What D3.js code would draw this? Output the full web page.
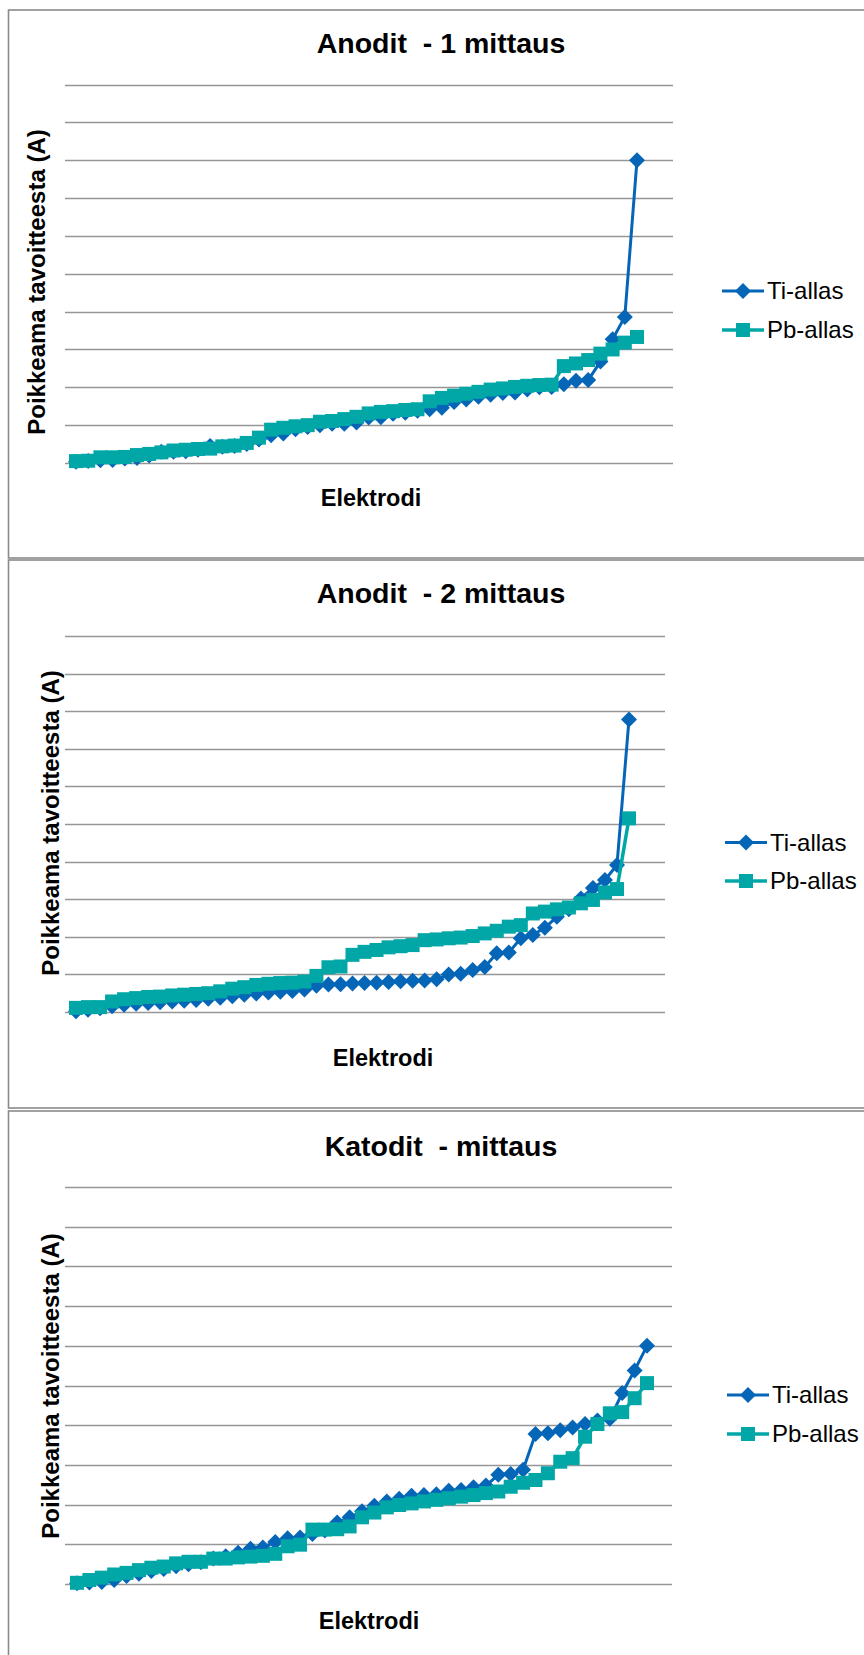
<!DOCTYPE html>
<html>
<head>
<meta charset="utf-8">
<script src="https://cdn.jsdelivr.net/npm/d3@7"></script>
<style>
    body { margin: 0; background: #fff; }
    text { font-family: "Liberation Sans", Arial, sans-serif; fill: #000; }
</style>
</head>
<body>
<script>
// Otsikot ja sarjojen nimet
const otsikot = ['Anodit  - 1 mittaus', 'Anodit  - 2 mittaus', 'Katodit  - mittaus'];
const sarjat = ['Ti-allas', 'Pb-allas'];
const akseliY = 'Poikkeama tavoitteesta (A)';
const akseliX = 'Elektrodi';

// Anodit - 1 mittaus (ruudukon yksiköissä)
const ti1 = [0.03, 0.05, 0.07, 0.08, 0.12, 0.13, 0.20, 0.30, 0.30, 0.31,
             0.35, 0.45, 0.43, 0.45, 0.50, 0.62, 0.73, 0.78, 0.89, 0.95,
             1.00, 1.04, 1.04, 1.07, 1.20, 1.21, 1.30, 1.33, 1.38, 1.42,
             1.46, 1.61, 1.68, 1.75, 1.80, 1.85, 1.86, 1.94, 2.00, 2.01,
             2.08, 2.17, 2.19, 2.68, 3.27, 3.86, 8.00];
const pb1 = [0.05, 0.06, 0.15, 0.15, 0.16, 0.21, 0.24, 0.28, 0.33, 0.35,
             0.37, 0.38, 0.44, 0.46, 0.53, 0.67, 0.88, 0.93, 0.97, 1.00,
             1.09, 1.11, 1.16, 1.22, 1.31, 1.35, 1.37, 1.40, 1.42, 1.63,
             1.72, 1.78, 1.83, 1.88, 1.94, 1.97, 2.01, 2.04, 2.06, 2.07,
             2.56, 2.63, 2.72, 2.89, 3.00, 3.18, 3.33];

// Anodit - 2 mittaus
const ti2 = [0.02, 0.06, 0.10, 0.15, 0.19, 0.22, 0.24, 0.26, 0.28, 0.30,
             0.32, 0.35, 0.38, 0.42, 0.46, 0.49, 0.52, 0.54, 0.56, 0.60,
             0.70, 0.73, 0.74, 0.76, 0.77, 0.78, 0.80, 0.82, 0.83, 0.84,
             0.87, 1.00, 1.02, 1.12, 1.20, 1.56, 1.58, 1.96, 2.05, 2.24,
             2.53, 2.73, 3.02, 3.30, 3.51, 3.91, 7.78];
const pb2 = [0.11, 0.13, 0.13, 0.28, 0.34, 0.37, 0.40, 0.41, 0.44, 0.46,
             0.48, 0.50, 0.55, 0.62, 0.66, 0.72, 0.75, 0.77, 0.78, 0.81,
             0.96, 1.19, 1.21, 1.52, 1.60, 1.65, 1.72, 1.75, 1.78, 1.91,
             1.93, 1.96, 1.98, 2.02, 2.09, 2.16, 2.27, 2.31, 2.62, 2.67,
             2.73, 2.78, 2.89, 2.98, 3.18, 3.27, 5.15];

// Katodit - mittaus
const ti3 = [0.02, 0.04, 0.05, 0.10, 0.20, 0.26, 0.33, 0.38, 0.45, 0.50,
             0.55, 0.64, 0.70, 0.79, 0.89, 0.92, 1.06, 1.15, 1.17, 1.26,
             1.35, 1.55, 1.68, 1.83, 1.97, 2.08, 2.15, 2.22, 2.24, 2.26,
             2.35, 2.37, 2.44, 2.48, 2.75, 2.77, 2.88, 3.78, 3.80, 3.87,
             3.94, 4.03, 4.12, 4.16, 4.81, 5.38, 6.00];
const pb3 = [0.03, 0.10, 0.16, 0.24, 0.28, 0.35, 0.41, 0.44, 0.52, 0.56,
             0.56, 0.64, 0.64, 0.67, 0.69, 0.71, 0.76, 0.95, 0.99, 1.37,
             1.37, 1.38, 1.45, 1.68, 1.80, 1.93, 1.99, 2.03, 2.08, 2.12,
             2.16, 2.20, 2.24, 2.29, 2.33, 2.45, 2.55, 2.62, 2.79, 3.08,
             3.17, 3.71, 4.03, 4.30, 4.33, 4.68, 5.06];

// Y-akselin ruudukko (ei näkyviä arvoja)
const yAlue = [0, 10];

// Asettelu: paneelien sijainnit sivulla
const config = {
    width: 864,
    height: 1655,
    tiColor: '#0565b7',
    pbColor: '#00a7a6',
    gridColor: '#969696',
    borderColor: '#8a8a8a',
    panels: [
        { box: [10, 558], plot: [65, 673, 84.5, 463], dataX: [76, 637], titleY: 53,
          yTitle: [45, 282], xTitle: [371, 506], legend: [722, 291, 330] },
        { box: [560, 1108], plot: [65, 665, 636, 1012], dataX: [76, 629], titleY: 603,
          yTitle: [59, 823], xTitle: [383, 1066], legend: [725, 842.5, 881] },
        { box: [1111, 1720], plot: [65, 672, 1187, 1584], dataX: [77, 647], titleY: 1156,
          yTitle: [59, 1386], xTitle: [369, 1629], legend: [727, 1395, 1434] }
    ]
};

const aineisto = [[ti1, pb1], [ti2, pb2], [ti3, pb3]];

const svg = d3.select('body').append('svg')
    .attr('width', config.width)
    .attr('height', config.height);

svg.append('rect')
    .attr('width', config.width)
    .attr('height', config.height)
    .attr('fill', '#fff');

// Merkkien piirto
function diamond(r) {
    return `M0,${-r}L${r},0L0,${r}L${-r},0Z`;
}
const square = d3.symbol(d3.symbolSquare, 14 * 14)();

function drawPanel(p, i) {
    const g = svg.append('g');
    const [ti, pb] = aineisto[i];
    const elektrodit = ti.map((_, k) => k + 1);

    // Kehys
    g.append('rect')
        .attr('x', 8.5)
        .attr('y', p.box[0])
        .attr('width', 900)
        .attr('height', p.box[1] - p.box[0])
        .attr('fill', '#fff')
        .attr('stroke', config.borderColor)
        .attr('stroke-width', 1.6);

    const x = d3.scalePoint().domain(elektrodit).range(p.dataX);
    const y = d3.scaleLinear().domain(yAlue).range([p.plot[3], p.plot[2]]);

    // Ruudukko
    g.append('g')
        .selectAll('line')
        .data(y.ticks(10))
        .join('line')
        .attr('x1', p.plot[0])
        .attr('x2', p.plot[1])
        .attr('y1', d => Math.round(y(d)) + 0.5)
        .attr('y2', d => Math.round(y(d)) + 0.5)
        .attr('stroke', config.gridColor)
        .attr('stroke-width', 1.3);

    // Otsikko
    g.append('text')
        .attr('x', 441)
        .attr('y', p.titleY)
        .attr('text-anchor', 'middle')
        .style('white-space', 'pre')
        .style('font-size', '28.5px')
        .style('font-weight', 'bold')
        .text(otsikot[i]);

    // Akselien otsikot
    g.append('text')
        .attr('transform', `translate(${p.yTitle[0]},${p.yTitle[1]}) rotate(-90)`)
        .attr('text-anchor', 'middle')
        .style('font-size', '24px')
        .style('font-weight', 'bold')
        .text(akseliY);

    g.append('text')
        .attr('x', p.xTitle[0])
        .attr('y', p.xTitle[1])
        .attr('text-anchor', 'middle')
        .style('font-size', '23.5px')
        .style('font-weight', 'bold')
        .text(akseliX);

    // Sarjat: Ti ensin, Pb päälle
    const line = d3.line()
        .x((d, k) => x(elektrodit[k]))
        .y(d => y(d));

    const series = [
        { values: ti, color: config.tiColor, width: 3, shape: diamond(8) },
        { values: pb, color: config.pbColor, width: 3.5, shape: square }
    ];

    series.forEach(s => {
        g.append('path')
            .datum(s.values)
            .attr('fill', 'none')
            .attr('stroke', s.color)
            .attr('stroke-width', s.width)
            .attr('stroke-linejoin', 'round')
            .attr('d', line);

        g.append('g')
            .selectAll('path')
            .data(s.values)
            .join('path')
            .attr('transform', (d, k) => `translate(${x(elektrodit[k])},${y(d)})`)
            .attr('d', s.shape)
            .attr('fill', s.color);
    });

    // Selite
    const [lx, ty, py] = p.legend;
    series.forEach((s, k) => {
        const ly = k === 0 ? ty : py;
        const lg = g.append('g').attr('transform', `translate(${lx},${ly})`);
        lg.append('line')
            .attr('x1', 0).attr('x2', 42)
            .attr('stroke', s.color)
            .attr('stroke-width', s.width);
        lg.append('path')
            .attr('transform', 'translate(21,0)')
            .attr('d', s.shape)
            .attr('fill', s.color);
        lg.append('text')
            .attr('x', 45)
            .attr('y', 8)
            .style('font-size', '24px')
            .text(sarjat[k]);
    });
}

config.panels.forEach(drawPanel);
</script>
</body>
</html>
